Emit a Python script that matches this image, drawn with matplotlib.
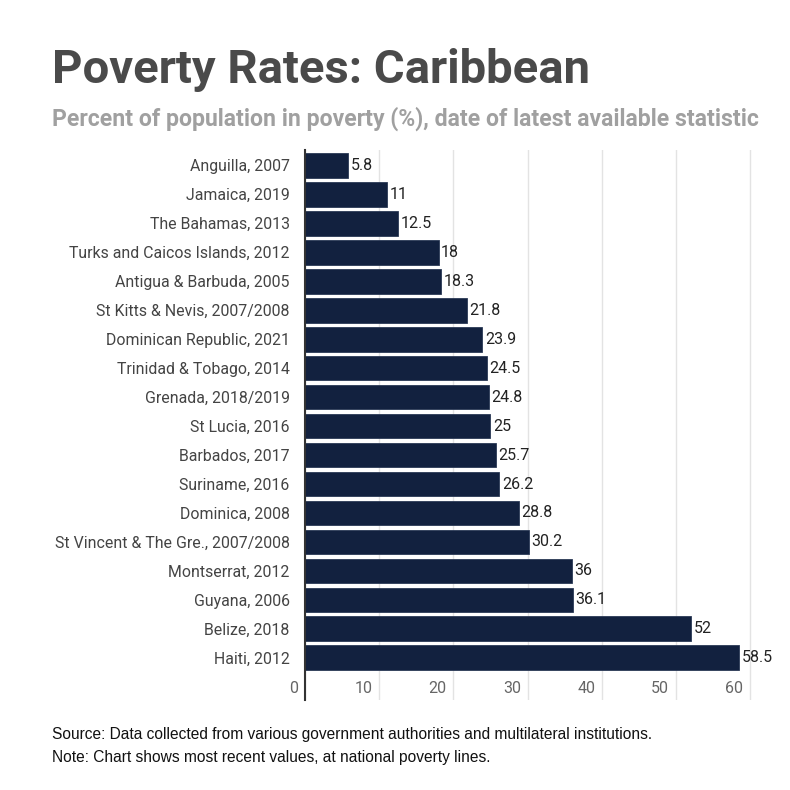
import matplotlib
matplotlib.use("Agg")
import matplotlib.pyplot as plt
import matplotlib.transforms as mtransforms

countries = [
    "Anguilla, 2007", "Jamaica, 2019", "The Bahamas, 2013",
    "Turks and Caicos Islands, 2012", "Antigua & Barbuda, 2005",
    "St Kitts & Nevis, 2007/2008", "Dominican Republic, 2021",
    "Trinidad & Tobago, 2014", "Grenada, 2018/2019", "St Lucia, 2016",
    "Barbados, 2017", "Suriname, 2016", "Dominica, 2008",
    "St Vincent & The Gre., 2007/2008", "Montserrat, 2012", "Guyana, 2006",
    "Belize, 2018", "Haiti, 2012",
]
rates = [5.8, 11, 12.5, 18, 18.3, 21.8, 23.9, 24.5, 24.8, 25, 25.7, 26.2,
         28.8, 30.2, 36, 36.1, 52, 58.5]
rate_labels = ["5.8", "11", "12.5", "18", "18.3", "21.8", "23.9", "24.5",
               "24.8", "25", "25.7", "26.2", "28.8", "30.2", "36", "36.1",
               "52", "58.5"]
x_ticks = [0, 10, 20, 30, 40, 50, 60]

title = "Poverty Rates: Caribbean"
subtitle = "Percent of population in poverty (%), date of latest available statistic"
footer = ["Source: Data collected from various government authorities and multilateral institutions.",
          "Note: Chart shows most recent values, at national poverty lines."]

plt.rcParams["font.family"] = ["Roboto", "DejaVu Sans"]

fig = plt.figure(figsize=(7.9, 7.9), dpi=100)
ax = fig.add_axes([305 / 790, 1 - 700 / 790, 460 / 790, 550 / 790])

pos = list(range(len(countries)))
ax.barh(pos, rates, height=0.86, color="#12213f", edgecolor="#2a3956",
        linewidth=0.6, zorder=3)
for p, v, s in zip(pos, rates, rate_labels):
    ax.text(v + 0.35, p, s, va="center", ha="left", fontsize=11.5,
            color="#222222", zorder=4)

ax.set_xlim(0, 62)
ax.set_ylim(len(countries) - 1 + 1.45, -0.52)
ax.set_yticks(pos)
ax.set_yticklabels(countries, fontsize=11.4, color="#444444")
ax.tick_params(axis="y", length=0, pad=11)
ax.set_xticks(x_ticks)
ax.set_xticklabels([])
ax.tick_params(axis="x", length=0)
ax.grid(axis="x", color="#e3e3e3", linewidth=1, zorder=0)
for side in ["top", "right", "bottom"]:
    ax.spines[side].set_visible(False)
ax.spines["left"].set_color("#333333")
ax.spines["left"].set_linewidth(1.5)
ax.spines["left"].set_zorder(5)

trans = mtransforms.blended_transform_factory(ax.transData, ax.transData)
for t in x_ticks:
    ax.text(t - 0.9, len(countries) - 1 + 1.05, str(t), ha="right",
            va="center", fontsize=11.5, color="#666666", transform=trans)

fig.text(52 / 790, 1 - 83 / 790, title, fontsize=34, fontweight="bold",
         color="#4a4a4a", va="baseline", ha="left")
fig.text(52 / 790, 1 - 126 / 790, subtitle, fontsize=16.6, fontweight="bold",
         color="#a0a0a0", va="baseline", ha="left")
fig.text(52 / 790, 1 - 739 / 790, footer[0], fontsize=11.2,
         family=["Liberation Sans", "DejaVu Sans"], color="#111111",
         va="baseline", ha="left")
fig.text(52 / 790, 1 - 762 / 790, footer[1], fontsize=11.2,
         family=["Liberation Sans", "DejaVu Sans"], color="#111111",
         va="baseline", ha="left")

fig.savefig("out.png", dpi=100, facecolor="white")
